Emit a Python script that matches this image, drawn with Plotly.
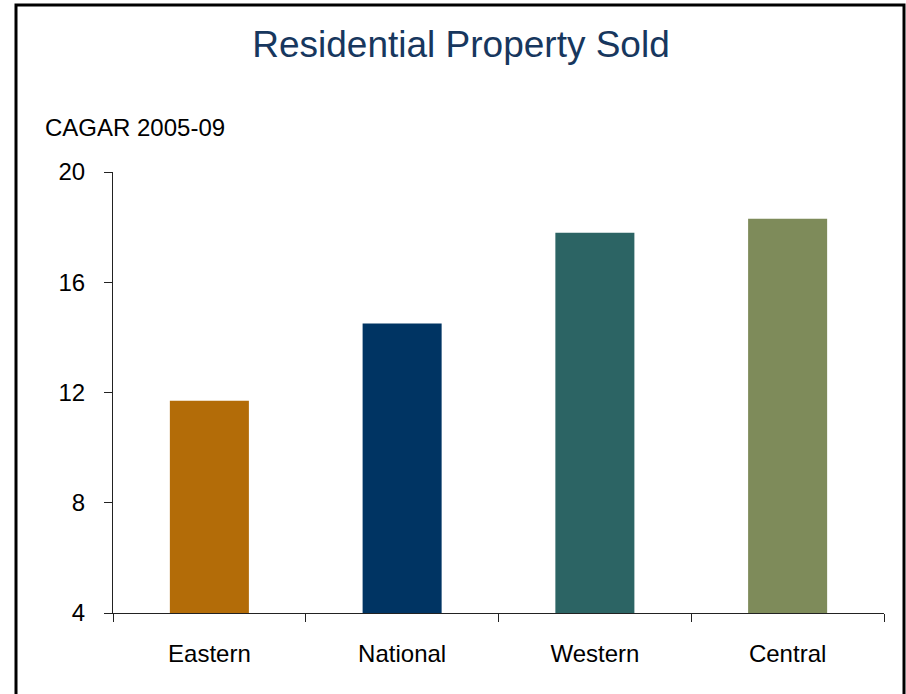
import plotly.graph_objects as go

# Compound annual growth, residential property sold, 2005-09
regions = ["Eastern", "National", "Western", "Central"]
cagr = [11.7, 14.5, 17.8, 18.3]
bar_colors = ["#B36C08", "#003463", "#2C6464", "#7E8B5A"]
y_ticks = [4, 8, 12, 16, 20]

FONT = "Liberation Sans, Arial, sans-serif"

fig = go.Figure(
    go.Bar(
        x=regions,
        y=cagr,
        marker=dict(color=bar_colors, line=dict(width=0)),
        hoverinfo="x+y",
    )
)

# plot area geometry (pixels) used for the outer frame
L, R, T, B = 113, 22, 172, 81
W, H = 906, 694
pw, ph = W - L - R, H - T - B

fig.update_layout(
    width=W,
    height=H,
    margin=dict(l=L, r=R, t=T, b=B),
    paper_bgcolor="white",
    plot_bgcolor="white",
    bargap=0.59,
    showlegend=False,
    font=dict(family=FONT, size=24, color="#000000"),
    title=dict(
        text="Residential Property Sold",
        x=461 / W,
        xref="container",
        xanchor="center",
        y=1 - 44 / H,
        yref="container",
        yanchor="middle",
        font=dict(family=FONT, size=37, color="#17375E"),
    ),
    xaxis=dict(
        showline=True,
        linecolor="#222222",
        linewidth=1,
        ticks="outside",
        tickson="boundaries",
        ticklen=8,
        tickcolor="#222222",
        showgrid=False,
        zeroline=False,
        ticklabelstandoff=19,
        tickfont=dict(family=FONT, size=24, color="#000000"),
    ),
    yaxis=dict(
        range=[4, 20],
        tickvals=y_ticks,
        ticktext=[str(v) for v in y_ticks],
        showline=True,
        linecolor="#222222",
        linewidth=1,
        ticks="outside",
        ticklen=8,
        tickcolor="#222222",
        showgrid=False,
        zeroline=False,
        ticklabelstandoff=14,
        tickfont=dict(family=FONT, size=24, color="#000000"),
    ),
    annotations=[
        dict(
            text="CAGAR 2005-09",
            xref="paper",
            yref="paper",
            x=(43 - L) / pw,
            y=(H - B - 127) / ph,
            xanchor="left",
            yanchor="middle",
            showarrow=False,
            font=dict(family=FONT, size=24, color="#000000"),
        )
    ],
    shapes=[
        dict(
            type="rect",
            xref="paper",
            yref="paper",
            x0=(16 - L) / pw,
            x1=(904 - L) / pw,
            y0=(H - B - 720) / ph,
            y1=(H - B - 5) / ph,
            line=dict(color="#000000", width=3),
            fillcolor="rgba(0,0,0,0)",
            layer="above",
        )
    ],
)

fig.write_html("out.html")
